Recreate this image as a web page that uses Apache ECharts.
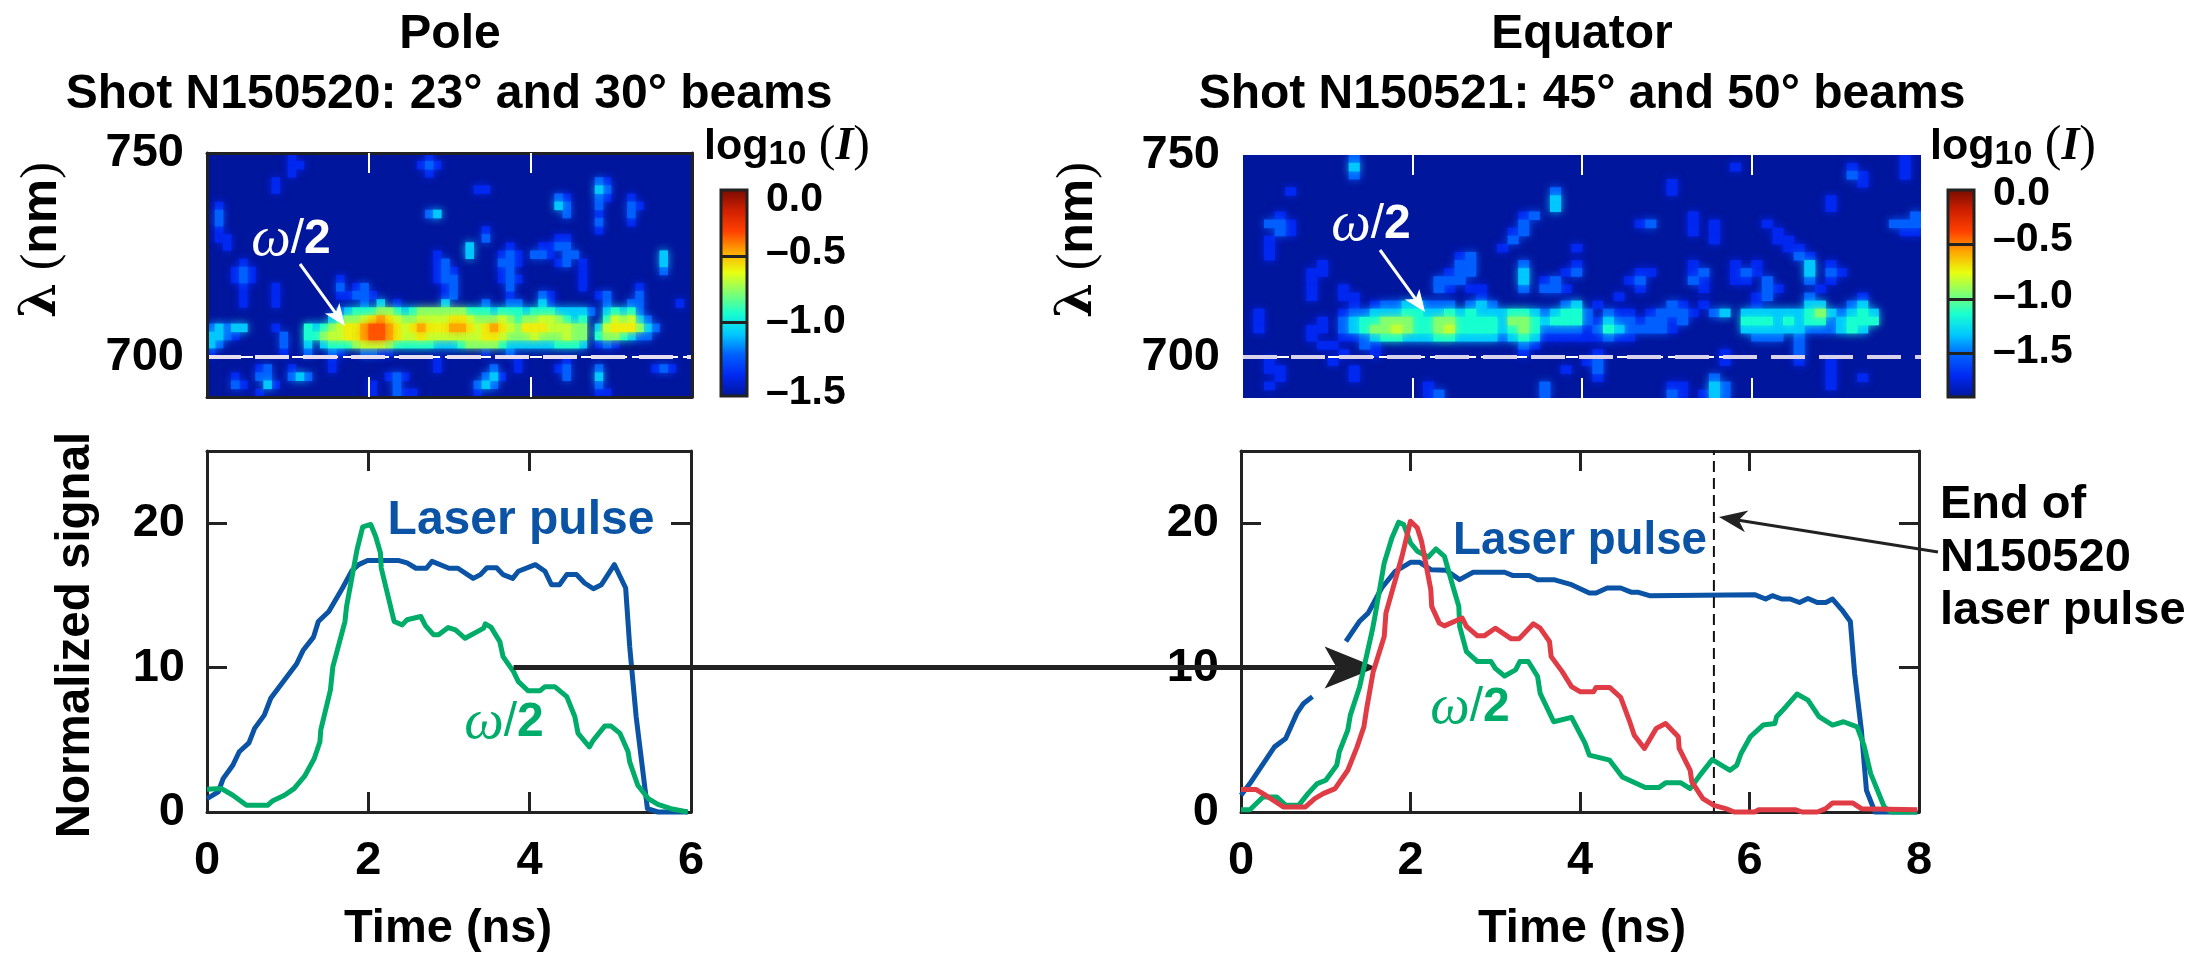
<!DOCTYPE html>
<html><head><meta charset="utf-8">
<style>html,body{margin:0;padding:0;background:#fff}#c{width:2195px;height:955px}</style>
<script src="https://cdn.jsdelivr.net/npm/echarts@6/dist/echarts.min.js"></script>
</head><body><div id="c"></div>
<script>
// Bottom-left panel (Pole): [time ns, normalized signal]
const poleLaser=[[0,.93],[.14,1.39],[.2,2.31],[.32,3.24],[.4,4.17],[.52,4.79],[.59,5.79],[.71,6.71],[.79,7.87],[.96,9.14],[1.11,10.25],[1.19,11.18],[1.32,12.11],[1.38,13.19],[1.51,13.89],[1.68,15.51],[1.8,16.74],[1.88,17.13],[1.99,17.41],[2.38,17.41],[2.48,17.25],[2.59,16.88],[2.72,16.88],[2.79,17.36],[3,16.88],[3.11,16.88],[3.3,16.18],[3.39,16.44],[3.47,16.92],[3.59,16.92],[3.67,16.44],[3.79,16.18],[3.86,16.67],[4.07,17.13],[4.19,16.67],[4.27,15.74],[4.37,15.74],[4.46,16.44],[4.58,16.44],[4.68,15.86],[4.79,15.46],[4.89,15.74],[5.05,17.13],[5.19,15.51],[5.24,11.46],[5.32,6.6],[5.46,.23],[5.59,0],[5.96,0]];
const poleOmega=[[0,1.57],[.18,1.62],[.32,1.16],[.49,.46],[.75,.46],[.81,.76],[.96,1.16],[1.08,1.62],[1.21,2.48],[1.33,3.7],[1.4,4.86],[1.41,5.67],[1.53,8.45],[1.56,10.05],[1.71,13.19],[1.73,14.23],[1.86,18.17],[1.93,19.75],[2.03,19.91],[2.09,19.1],[2.15,17.95],[2.16,16.9],[2.32,13.19],[2.42,12.96],[2.48,13.31],[2.65,13.54],[2.71,12.89],[2.81,12.27],[2.87,12.27],[2.99,12.77],[3.08,12.61],[3.2,12.03],[3.43,12.73],[3.45,13.03],[3.52,12.8],[3.63,11.8],[3.67,10.76],[3.8,9.72],[3.86,9.03],[3.98,8.4],[4.13,8.4],[4.19,8.68],[4.31,8.68],[4.46,7.99],[4.56,6.6],[4.6,5.44],[4.74,4.51],[4.79,4.98],[4.93,5.95],[5.01,5.95],[5.12,5.44],[5.22,4.17],[5.24,3.47],[5.34,1.85],[5.47,.93],[5.59,.53],[5.75,.23],[5.96,0]];
// Bottom-right panel (Equator)
const eqLaser=[[0,1.16],[.105,1.97],[.237,3.13],[.395,4.51],[.527,5.09],[.659,6.83],[.738,7.52],[.843,7.99],[.95,null],[1.238,11.81],[1.396,13.19],[1.5,13.77],[1.66,15.51],[1.82,16.67],[2,17.29],[2.11,17.29],[2.24,16.78],[2.42,16.74],[2.58,16.09],[2.74,16.6],[3.11,16.6],[3.21,16.37],[3.4,16.37],[3.5,16.09],[3.69,16.09],[3.9,15.74],[4.11,15.16],[4.19,15.16],[4.32,15.51],[4.48,15.51],[4.61,15.21],[4.69,15.21],[4.82,14.98],[6.06,15.05],[6.19,14.75],[6.27,14.98],[6.38,14.75],[6.48,14.75],[6.59,14.51],[6.69,14.79],[6.8,14.51],[6.9,14.51],[6.98,14.75],[7.09,14],[7.19,13.19],[7.24,9.61],[7.32,5.67],[7.38,1.5],[7.48,0],[7.98,0]];
const eqOmega=[[0,.16],[.105,.16],[.26,1.04],[.42,1.04],[.53,.46],[.68,.46],[.79,1.27],[.9,1.97],[1,2.2],[1.13,3.24],[1.16,4.17],[1.26,5.67],[1.29,6.71],[1.4,8.68],[1.55,12.61],[1.58,13.54],[1.69,17.25],[1.78,18.98],[1.86,20.07],[1.92,19.91],[2,18.63],[2.08,18.06],[2.21,17.66],[2.3,18.22],[2.4,17.71],[2.5,15.63],[2.57,14.24],[2.58,12.85],[2.66,11.11],[2.79,10.42],[2.95,10.42],[3,9.95],[3.11,9.42],[3.24,9.84],[3.29,10.42],[3.39,10.42],[3.5,9.38],[3.53,8.22],[3.69,6.25],[3.9,6.55],[4.06,4.75],[4.11,3.94],[4.35,3.59],[4.5,2.43],[4.77,1.69],[4.93,1.69],[5.01,2.02],[5.19,2.02],[5.3,1.62],[5.43,2.66],[5.56,3.63],[5.77,2.89],[5.85,3.24],[5.9,4.05],[6.01,5.21],[6.16,6.02],[6.3,6.13],[6.32,6.6],[6.43,7.29],[6.56,8.17],[6.69,7.75],[6.82,6.6],[6.98,6.02],[7.11,6.25],[7.27,5.9],[7.35,4.63],[7.43,2.66],[7.59,.35],[7.67,0],[7.98,0]];
const eqOmegaPole=[[0,1.55],[.18,1.55],[.29,1.16],[.5,.35],[.76,.35],[.87,.93],[.97,1.27],[1.11,1.62],[1.26,2.89],[1.37,4.51],[1.45,5.9],[1.48,7.06],[1.56,9.72],[1.69,12.15],[1.71,13.77],[1.9,17.71],[2,20.14],[2.08,19.68],[2.13,18.75],[2.24,15.39],[2.25,14.24],[2.34,13.08],[2.4,12.89],[2.61,13.43],[2.66,12.85],[2.79,12.2],[2.87,12.2],[3,12.73],[3.19,11.99],[3.28,11.99],[3.45,13.03],[3.53,12.73],[3.64,11.81],[3.66,10.76],[3.79,9.72],[3.9,8.68],[4,8.33],[4.16,8.33],[4.19,8.63],[4.35,8.63],[4.48,7.94],[4.58,6.37],[4.64,5.32],[4.76,4.4],[4.9,5.79],[5.01,6.13],[5.16,5.21],[5.17,4.4],[5.3,2.89],[5.32,2.08],[5.45,.93],[5.58,.46],[5.72,.23],[5.82,0],[6.06,0],[6.11,.16],[6.54,.16],[6.62,0],[6.8,0],[6.9,.23],[6.98,.62],[7.22,.62],[7.32,.23],[7.98,.16]];
const endOfPulse=[[5.58,0],[5.58,25]];
// Top panels: intensity levels 0-9 (top row first, grouped in tens)
const poleRows=[
"0000000000 1000000000 0000000100 0000000000 0000000000 0000000000",
"0000000000 1100000000 0000001210 0000000000 0000000000 0000000000",
"0000000000 1000000000 0000000100 0000000000 0000000000 0000000000",
"0000000010 0000000000 0000000000 0000000000 0000000021 0000000000",
"0000000010 0000000000 0000000000 0001100000 0000000032 0000000000",
"0000000000 0000000000 0000000000 0000000000 0002100021 0010000000",
"0100000000 0000000000 0000000000 0000000000 0003200020 0021000000",
"0200000000 0000000000 0000000230 0000000000 0000200010 0020000000",
"0200000000 0000000000 0000000000 0000000000 0000000020 0010000000",
"0100000000 0000000000 0000000000 0000100000 0000000010 0000000000",
"0110000000 0000000000 0000000000 0000200000 0001100000 0000000000",
"0010000000 0000000000 0000000000 0030000100 0112200000 0000000000",
"0000000000 0000000000 0000000010 0030001210 2210220000 0000003000",
"0000100000 0000000000 0000000012 0000002210 0001201000 0000003000",
"0001210000 0000000000 0000000012 1000001200 0000001000 0000002000",
"0001210000 0000001000 0000000012 2000001210 0000001000 0000000000",
"0000100010 0000002012 0000000001 2000000200 0000001000 0001000000",
"0000100010 0000001122 1000000001 2000000100 0210000012 0002000000",
"0000100010 0000000002 0301000003 0000200220 0310000002 0022000010",
"0000000000 0000002344 4554345555 5544434443 4443333203 4342000000",
"0000000000 0000034556 7876556666 7765556545 5665434004 6563200000",
"2323300010 0043456778 9987678777 8876787657 7766655036 7775320000",
"3321000002 0044566778 9987667666 6666776555 6555655045 5432200000",
"3200000002 0030344456 6654444433 3455554333 3334443012 1000000000",
"1000000001 0020021002 2110000000 0000100200 0000000000 0000000000",
"0000000000 0000010000 0000000010 0000000010 0000100000 0000000000",
"0000001200 1000010000 0000000010 0000020010 0001200020 0000012100",
"0001002200 2320000000 0012100000 0000231000 0000200030 0000000000",
"0002100310 0000000000 1002000000 0002320000 0000000020 0000000000",
"0000001000 0000000000 1002110000 0001000000 0000000011 0000000000"];
const equatorRows=[
"0000000000 2000000000 0000000000 0000000000 0000000000 0000000000 0010",
"0000000000 3000000000 0000000000 0000000000 0000001000 0000000100 0010",
"0000000000 2000000000 0000000000 0000000000 0000000000 0000000210 0010",
"0000000000 0000000000 0000000000 0000000000 1000000000 0000000010 0000",
"0000100000 0000000000 0000000002 0000000000 1000000000 0000000000 0000",
"0000000000 0000000000 0000000003 0000000000 0000000000 0000010000 0000",
"0000000000 0000000000 0000000003 0000000000 0000000000 0000010000 0000",
"0001000000 0000000000 0000001200 0000000000 0010000000 0000000000 0002",
"0022100000 0000000000 0000002000 0000000120 0010100001 0000000000 0222",
"0002100000 0000000000 0000012000 0000000000 0010100000 1000000000 0011",
"0010000000 0000000000 0000020000 0000000000 0000100000 1100000000 0000",
"0010000000 0000000000 0000100000 0100000000 0000000000 0110000000 0000",
"0010000000 0000000000 1200000000 0000000000 0000000000 0021000000 0000",
"0000000100 0000000000 2200002000 0100000000 0010001010 0003010000 0000",
"0000001100 0000000001 2200003000 1200000110 0012001210 0003021000 0000",
"0000001000 0000000022 2000003012 0000001200 0021001102 0002010000 0000",
"0000001001 0000000021 0110002022 1000000100 0001000002 1000100000 0000",
"0000001001 1000000000 0010000000 0000010000 0000000012 0002000010 0000",
"0000000000 1012233222 0232000000 2301000000 2101000010 0003300230 0000",
"0100000001 2233344334 3433344323 4420211012 2210230333 3334532343 0000",
"0100000102 3445554455 4444355434 4421322122 1200000444 3434423444 0000",
"0100001102 3455654456 4444345422 2212432222 1000000333 3332223430 0000",
"0000001001 1234433344 3333234311 1111211000 0000000022 2020000000 0000",
"0000000110 0210000000 0000002100 0000000000 0000000000 0020000000 0000",
"0000000001 0010000000 0000001000 0001000000 0000010000 0020000000 0000",
"0010000010 0000000000 0000000000 0012000000 0000010000 0010010000 0000",
"0011000000 1000000000 0000000000 1002000000 0000000000 0000010000 0000",
"0001000000 1000000000 0000000000 0001000000 0000200000 0000010010 0000",
"0010000000 0000000100 0000000020 0000000000 1100320000 0000010000 0000",
"0000000000 0000000120 0000000020 0000000000 2101320000 0000000000 0000"];
const refLine700Pole=[[0,700],[6,700]];
const refLine700EqFine=[[0,700],[5.7,700]];
const refLine700EqWide=[[0,700],[8,700]];
const poleBarMin=-1.56, eqBarMin=-1.9;
const jet=['#00169c','#0028f0','#0060ff','#00c8ff','#18ffd0','#80ff70','#e8ff10','#ffa800','#ff4000','#d02000','#7a0c00'];
const levelFrac=[0,.1,.2,.3,.4,.5,.56,.62,.7,.78];
const levelGlow=['#00169c','#0028f0','#0060ff','#00c8ff','#18ffd0','#80ff70','#c0ff38','#f0f410','#ffa800','#ff5000'];

const F='"Liberation Sans",Arial,sans-serif', DARK='#222', BLUE='#0a53a5', GREEN='#00ac69', RED='#e03c45';
const chart=echarts.init(document.getElementById('c'));

function cells(rows,min){
  const out=[],n=rows.length;
  rows.forEach((r,i)=>{r.replace(/ /g,'').split('').forEach((c,j)=>{
    const L=+c; if(L===0)return;
    out.push({L,value:[j,n-1-i,min+(-min)*levelFrac[L]],itemStyle:{shadowBlur:9,shadowColor:levelGlow[L]}});
  });});
  out.sort((a,b)=>a.L-b.L);
  return out;
}
const idx=n=>Array.from({length:n},(_,i)=>i);
const pc=poleRows[0].replace(/ /g,'').length, ec=equatorRows[0].replace(/ /g,'').length;

const gridRects=[
 {left:207,top:153,width:485,height:244,show:true,backgroundColor:jet[0],borderWidth:0},   //0 pole heat
 {left:207,top:153,width:485,height:244},   //1 pole overlay
 {left:1243,top:155,width:678,height:243,show:true,backgroundColor:jet[0],borderWidth:0},  //2 eq heat
 {left:1243,top:155,width:678,height:243},  //3 eq overlay
 {left:207,top:451,width:484,height:361},   //4 pole plot
 {left:1241,top:451,width:678,height:361},  //5 eq plot
 {left:721,top:190,width:26,height:206,show:true,backgroundColor:'transparent',borderColor:DARK,borderWidth:3,z:3},    //6 pole bar
 {left:1948,top:190,width:26,height:207,show:true,backgroundColor:'transparent',borderColor:DARK,borderWidth:3,z:3}    //7 eq bar
];
const hiddenCat=(g,n)=>({type:'category',gridIndex:g,data:idx(n),show:false});
const lineStyleDark={show:true,onZero:false,lineStyle:{color:DARK,width:3}};
function box(g,xmax,xTicks,xLabels,ymin,ymax,yTicks,yLabels,tickColor,lineShow,z){
  const al=lineShow?lineStyleDark:{show:false,onZero:false};
  const tick=(cv)=>({show:true,inside:true,length:20,lineStyle:{color:tickColor,width:tickColor==='#fff'?2:3},customValues:cv});
  const xa=[{type:'value',gridIndex:g,min:0,max:xmax,position:'bottom',z,axisLine:al,splitLine:{show:false},axisTick:tick(xTicks),
      axisLabel:xLabels?{show:true,customValues:xLabels,margin:26,fontFamily:F,fontWeight:'bold',fontSize:47,color:'#000'}:{show:false}},
    {type:'value',gridIndex:g,min:0,max:xmax,position:'top',z,axisLine:al,splitLine:{show:false},axisTick:tick(xTicks),axisLabel:{show:false}}];
  const ya=[{type:'value',gridIndex:g,min:ymin,max:ymax,position:'left',z,axisLine:al,splitLine:{show:false},axisTick:yTicks?tick(yTicks):{show:false},
      axisLabel:{show:true,customValues:yLabels,margin:yTicks?22:23,fontFamily:F,fontWeight:'bold',fontSize:47,color:'#000'}},
    {type:'value',gridIndex:g,min:ymin,max:ymax,position:'right',z,axisLine:al,splitLine:{show:false},axisTick:yTicks?tick(yTicks):{show:false},axisLabel:{show:false}}];
  return {xa,ya};
}
const b1=box(1,6,[2,4],null,690.2,750,null,[700,750],'#fff',true,5);
const b3=box(3,8,[2,4,6],null,689.85,750,null,[700,750],'#fff',false,5);
const b4=box(4,6,[2,4],[0,2,4,6],0,25,[10,20],[0,10,20],DARK,true,1);
const b5=box(5,8,[2,4,6],[0,2,4,6,8],0,25,[10,20],[0,10,20],DARK,true,1);
function barAxes(g,min,labelVals,ticks,margin){
  const fmt=v=>{const r=Math.round(v*2)/2;return r===0?'0.0':'–'+Math.abs(r).toFixed(1);};
  return {x:{type:'value',gridIndex:g,min:0,max:1,show:false},
    y:{type:'value',gridIndex:g,min,max:0,position:'left',z:5,splitLine:{show:false},
      axisLine:{show:false,onZero:false},
      axisTick:{show:true,inside:true,length:26,lineStyle:{color:DARK,width:3},customValues:ticks},
      axisLabel:{show:true,inside:false,customValues:labelVals,formatter:fmt,fontFamily:F,fontWeight:'bold',fontSize:41,color:'#000',margin,align:'left'}}};
}
const c6=barAxes(6,poleBarMin,[-.076,-.477,-1,-1.537],[-.5,-1],-45);
const c7=barAxes(7,eqBarMin,[-.03,-.46,-.98,-1.48],[-.5,-1,-1.5],-45);

const xAxis=[hiddenCat(0,pc),...b1.xa,hiddenCat(2,ec),...b3.xa,...b4.xa,...b5.xa,c6.x,c7.x];
// indexes: 0 | 1,2 | 3 | 4,5 | 6,7 | 8,9 | 10 | 11
const yAxis=[hiddenCat(0,30),...b1.ya,hiddenCat(2,30),...b3.ya,...b4.ya,...b5.ya,c6.y,c7.y];
const ln=(x,y,data,color,width,z,type)=>({type:'line',xAxisIndex:x,yAxisIndex:y,data,showSymbol:false,silent:true,smooth:false,connectNulls:false,z,clip:false,
  lineStyle:{color,width,type:type||'solid',join:'round',cap:'butt'}});

chart.setOption({
 animation:false,backgroundColor:'#fff',
 grid:gridRects,xAxis,yAxis,
 visualMap:[
  {type:'continuous',seriesIndex:0,min:poleBarMin,max:0,left:720,top:190,itemWidth:28,itemHeight:206,padding:0,text:[],inRange:{color:jet},calculable:false,hoverLink:false,z:1},
  {type:'continuous',seriesIndex:1,min:eqBarMin,max:0,left:1947,top:190,itemWidth:28,itemHeight:207,padding:0,text:[],inRange:{color:jet},calculable:false,hoverLink:false,z:1}
 ],
 series:[
  {type:'heatmap',xAxisIndex:0,yAxisIndex:0,data:cells(poleRows,poleBarMin),z:1,silent:true,progressive:0},
  {type:'heatmap',xAxisIndex:3,yAxisIndex:3,data:cells(equatorRows,eqBarMin),z:1,silent:true,progressive:0},
  ln(1,1,refLine700Pole,'#fff',2,4,[12,5]),
  ln(1,1,refLine700Pole,'#e4def0',4,4,[34,14]),
  ln(4,4,refLine700EqFine,'#fff',2,4,[12,5]),
  ln(4,4,refLine700EqWide,'#d8d2ec',4,4,[34,14]),
  ln(6,6,poleLaser,BLUE,5,2),
  ln(6,6,poleOmega,GREEN,5,3),
  ln(8,8,eqLaser,BLUE,5,2),
  ln(8,8,endOfPulse,'#111',2,3,[11,6]),
  ln(8,8,eqOmega,GREEN,5,6),
  ln(8,8,eqOmegaPole,RED,5,7),
  // colour-bar axes need a bound series so their grids render
  {type:'line',xAxisIndex:10,yAxisIndex:10,data:[],silent:true},
  {type:'line',xAxisIndex:11,yAxisIndex:11,data:[],silent:true}
 ]
});

const T=(x,y,text,fs,color,extra)=>Object.assign({type:'text',x,y,z:10,silent:true,style:Object.assign({text,fontFamily:F,fontWeight:'bold',fontSize:fs,fill:color||'#000',align:'center',verticalAlign:'middle'},extra&&extra.style||{})},extra&&extra.el||{});
const omegaRich=(fs,color)=>({rich:{w:{fontFamily:'"Liberation Serif",serif',fontStyle:'italic',fontSize:fs+8,fill:color,fontWeight:'normal'},s:{fontFamily:F,fontSize:fs,fill:color,fontWeight:'normal'},t:{fontFamily:F,fontSize:fs,fontWeight:'bold',fill:color}}});
const logRich={rich:{a:{fontFamily:F,fontWeight:'bold',fontSize:43,fill:'#000'},s:{fontFamily:F,fontWeight:'bold',fontSize:34,fill:'#000',verticalAlign:'bottom',padding:[14,0,0,0]},i:{fontFamily:'"Liberation Serif",serif',fontStyle:'italic',fontWeight:'bold',fontSize:46,fill:'#000'},p:{fontFamily:'"Liberation Serif",serif',fontSize:50,fill:'#000',fontWeight:'normal'}}};
const lamRich={rich:{l:{fontFamily:'"DejaVu Serif",serif',fontWeight:'bold',fontSize:50,fill:'#000'},p:{fontFamily:'"Liberation Serif",serif',fontWeight:'normal',fontSize:50,fill:'#000'},n:{fontFamily:F,fontWeight:'bold',fontSize:50,fill:'#000'}}};
function arrow(x0,y0,x1,y1,width,color,len,half,notch,z){
  const a=Math.atan2(y1-y0,x1-x0),c=Math.cos(a),s=Math.sin(a);
  const P=(l,w)=>[x1-l*c-w*s,y1-l*s+w*c];
  return [
   {type:'line',z,silent:true,shape:{x1:x0,y1:y0,x2:P(notch,0)[0],y2:P(notch,0)[1]},style:{stroke:color,lineWidth:width}},
   {type:'polygon',z,silent:true,shape:{points:[[x1,y1],P(len,half),P(notch,0),P(len,-half)]},style:{fill:color}}
  ];
}
const mask=(x,y,w,h)=>({type:'rect',z:2,silent:true,shape:{x,y,width:w,height:h},style:{fill:'#fff'}});
const pa=chart.convertToPixel({gridIndex:4},[3.8,10]), pb=chart.convertToPixel({gridIndex:5},[1.6,10]);
chart.setOption({graphic:{elements:[
 mask(195,141,509,12),mask(195,397,509,12),mask(195,141,12,268),mask(692,141,12,268),
 mask(1231,143,702,12),mask(1231,398,702,12),mask(1231,143,12,267),mask(1921,143,12,267),
 T(450,35,'Pole',48),
 T(449,95,'Shot N150520: 23° and 30° beams',48),
 T(1582,35,'Equator',48),
 T(1582,95,'Shot N150521: 45° and 50° beams',48),
 T(787,147,'{a|log}{s|10}{p| (}{i|I}{p|)}',43,'#000',{style:logRich}),
 T(2013,147,'{a|log}{s|10}{p| (}{i|I}{p|)}',43,'#000',{style:logRich}),
 T(42,240,'{l|λ}{p| (}{n|nm}{p|)}',50,'#000',{el:{rotation:Math.PI/2},style:lamRich}),
 T(1078,240,'{l|λ}{p| (}{n|nm}{p|)}',50,'#000',{el:{rotation:Math.PI/2},style:lamRich}),
 T(76,635,'Normalized signal',47.5,'#000',{el:{rotation:Math.PI/2}}),
 T(448,929,'Time (ns)',47),
 T(1582,929,'Time (ns)',47),
 T(291,240,'{w|ω}{s|/}{t|2}',48,'#fff',{style:omegaRich(48,'#fff')}),
 T(1371,225,'{w|ω}{s|/}{t|2}',48,'#fff',{style:omegaRich(48,'#fff')}),
 T(504,723,'{w|ω}{s|/}{t|2}',48,GREEN,{style:omegaRich(48,GREEN)}),
 T(1470,708,'{w|ω}{s|/}{t|2}',48,GREEN,{style:omegaRich(48,GREEN)}),
 T(521,521,'Laser pulse',48,BLUE),
 T(1580,541,'Laser pulse',45.7,BLUE),
 T(1940,505,'End of',47,'#000',{style:{align:'left'}}),
 T(1940,558,'N150520',47,'#000',{style:{align:'left'}}),
 T(1940,611,'laser pulse',47,'#000',{style:{align:'left'}}),
 ...arrow(pa[0],pa[1],pb[0],pb[1],5,DARK,52,21,40,5),
 ...arrow(1938,552,1719,517,3,DARK,28,11,20,5),
 ...arrow(300,264,345,326,3,'#fff',22,9,16,9),
 ...arrow(1380,250,1425,312,3,'#fff',22,9,16,9)
]}});
</script></body></html>
